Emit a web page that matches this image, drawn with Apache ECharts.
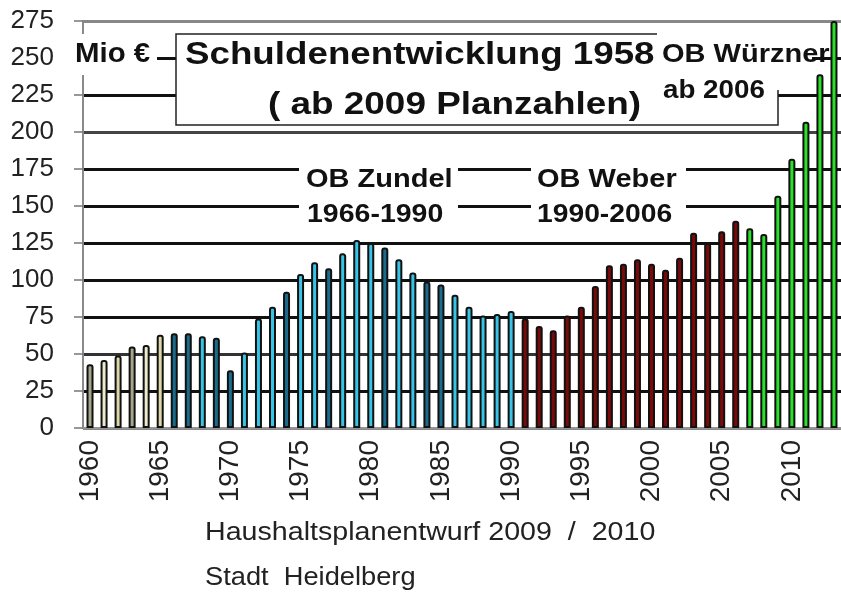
<!DOCTYPE html>
<html>
<head>
<meta charset="utf-8">
<script src="https://cdn.jsdelivr.net/npm/echarts@6/dist/echarts.min.js"></script>
<style>
html,body{margin:0;padding:0;background:#fff;}
#chart{width:841px;height:597px;}
</style>
</head>
<body>
<div id="chart"></div>
<script>
// ---- data ----
var years = [];
for (var y = 1960; y <= 2013; y++) years.push(String(y));
var debt = [43, 46, 49, 55, 56, 63, 64, 64, 62, 61, 39, 51, 74, 82, 92, 104, 112, 108, 118, 127,
            125, 122, 114, 105, 99, 97, 90, 82, 76, 77, 79, 74, 69, 66, 76, 82, 96, 110, 111, 114,
            111, 107, 115, 132, 125, 133, 140, 135, 131, 157, 182, 207, 239, 275];
// colour key per bar: g1/g2/g3 = early (beige tones), d/l = Zundel (dark/light blue), r = Weber, w = Würzner
var colourKey = ['g1','g2','g3','g1','g2','g3',
  'd','d','l','d','d','l','l','l','d','l','l','d','l','l','l','d','l','l','d','d','l','l','l','l','l',
  'r','r','r','r','r','r','r','r','r','r','r','r','r','r','r','r',
  'w','w','w','w','w','w','w'];
var yTicks = [0, 25, 50, 75, 100, 125, 150, 175, 200, 225, 250, 275];
var titleLines = ['Schuldenentwicklung 1958', '( ab 2009 Planzahlen)'];
var unitLabel = 'Mio €';
var eraLabels = [['OB Zundel', '1966-1990'], ['OB Weber', '1990-2006'], ['OB Würzner', 'ab 2006']];
var footer = ['Haushaltsplanentwurf 2009  /  2010', 'Stadt  Heidelberg'];

var palette = { g1:'#a6a68a', g2:'#eeeacd', g3:'#dcd8a8', d:'#1a6c8c', l:'#38c4e6', r:'#7a0909', w:'#2be02b' };
var FF = '"Liberation Sans", Arial, sans-serif';

var chart = echarts.init(document.getElementById('chart'));

function txt(x, y, s, size, bold, sx, fill) {
  return { type:'text', x:x, y:y, scaleX:sx, z:120, silent:true,
    style:{ text:s, font:(bold?'bold ':'') + size + 'px ' + FF, fill:fill||'#111', verticalAlign:'middle', align:'left' } };
}

var option = {
  backgroundColor:'#fff',
  animation:false,
  grid:{ left:83, right:0, top:21, bottom:169 },
  xAxis:{
    type:'category', data:years,
    axisLine:{ lineStyle:{ color:'#999', width:1.5 } },
    axisTick:{ show:false },
    axisLabel:{ interval:4, rotate:90, margin:12, fontSize:28, color:'#222', fontFamily:FF }
  },
  yAxis:{
    type:'value', min:0, max:275, interval:25,
    axisLine:{ show:true, lineStyle:{ color:'#8a8a8a', width:2 } },
    axisTick:{ show:true, length:9, lineStyle:{ color:'#777', width:1.5 } },
    axisLabel:{ margin:29, fontSize:26, color:'#222', fontFamily:FF },
    splitLine:{ show:true, lineStyle:{ color:['#888','#111','#333','#111','#111','#111','#111','#111','#444','#111','#111','#888'], width:2.8 } }
  },
  series:[{
    type:'bar', data:debt, barWidth:7,
    itemStyle:{
      color:function(p){ return palette[colourKey[p.dataIndex]]; },
      borderColor:'#111', borderWidth:2, borderRadius:[2,2,0,0]
    }
  }],
  graphic:[
    // title box
    { type:'rect', z:110, silent:true, shape:{ x:176, y:34, width:602, height:91 }, style:{ fill:'#fff' } },
    { type:'polyline', z:111, silent:true, shape:{ points:[[657,34],[176,34],[176,125],[778,125],[778,90]] }, style:{ stroke:'#222', lineWidth:1.5, fill:null } },
    { type:'rect', z:110, silent:true, shape:{ x:657, y:33, width:155, height:58 }, style:{ fill:'#fff' } },
    // unit box
    { type:'rect', z:110, silent:true, shape:{ x:66, y:34, width:91, height:41 }, style:{ fill:'#fff' } },
    // era label boxes
    { type:'rect', z:110, silent:true, shape:{ x:299, y:161, width:159, height:70 }, style:{ fill:'#fff' } },
    { type:'rect', z:110, silent:true, shape:{ x:531, y:161, width:155, height:70 }, style:{ fill:'#fff' } },
    txt(75, 54, unitLabel, 28, true, 1.05),
    txt(185, 55, titleLines[0], 31, true, 1.185),
    txt(268, 105, titleLines[1], 31, true, 1.19),
    txt(306, 180, eraLabels[0][0], 25, true, 1.16),
    txt(307, 215, eraLabels[0][1], 25, true, 1.14),
    txt(537, 180, eraLabels[1][0], 25, true, 1.16),
    txt(537, 215, eraLabels[1][1], 25, true, 1.13),
    txt(662, 55, eraLabels[2][0], 25, true, 1.16),
    txt(663, 91, eraLabels[2][1], 25, true, 1.11),
    txt(205, 533, footer[0], 25, false, 1.145, '#222'),
    txt(205, 578, footer[1], 25, false, 1.09, '#222')
  ]
};
chart.setOption(option);
</script>
</body>
</html>
